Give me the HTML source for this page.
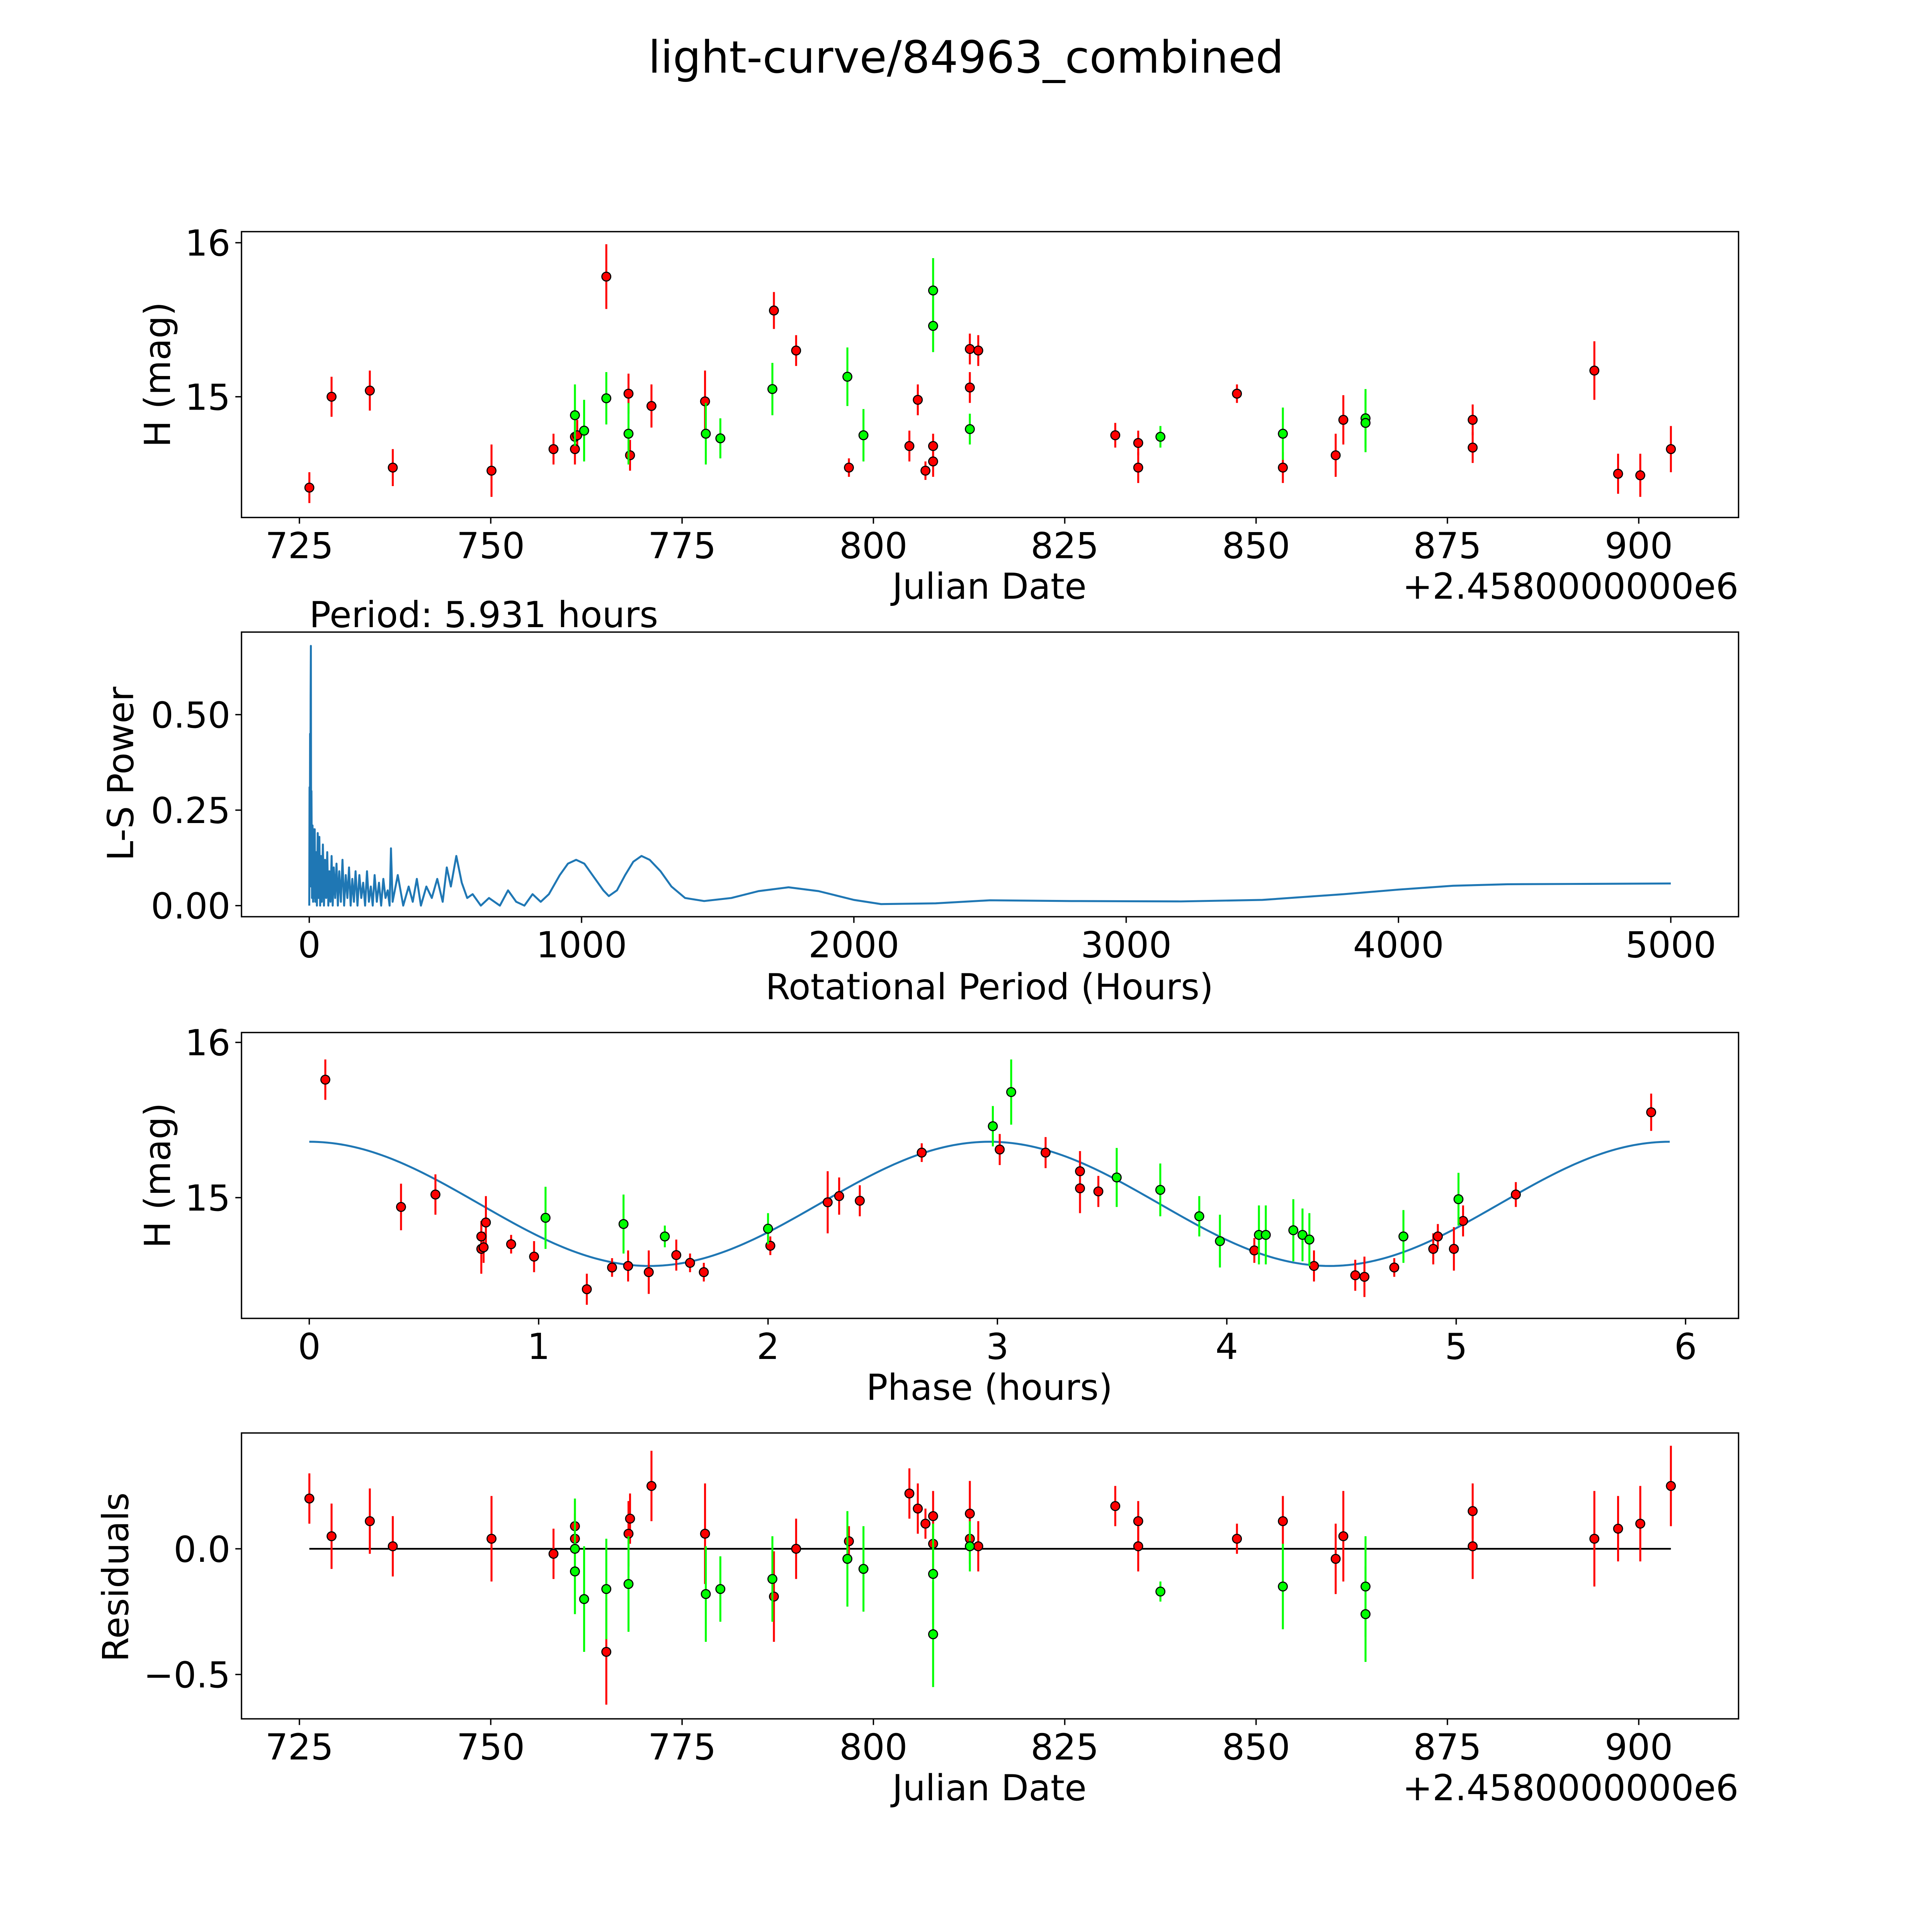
<!DOCTYPE html>
<html><head><meta charset="utf-8"><style>
html,body{margin:0;padding:0;background:#fff;overflow:hidden}
svg{display:block;width:100vh;height:100vh;max-width:5400px;max-height:5400px}
text{font-family:"DejaVu Sans","Liberation Sans",sans-serif;fill:#000}
</style></head><body>
<svg id="fig" viewBox="0 0 1568 1568" preserveAspectRatio="none" xmlns="http://www.w3.org/2000/svg">
<rect width="1568" height="1568" fill="#fff"/>
<text x="784" y="59" font-size="36" text-anchor="middle">light-curve/84963_combined</text>
<g id="g"></g>
</svg>
<script>
// Panel 1: light curve
const lcRedDate=[726.3,729.2,734.2,737.2,750.1,758.2,761,761,761.3,765.1,768,768.2,771,778,787,789.9,796.8,804.7,805.8,806.8,807.8,807.8,812.6,812.6,813.7,831.6,834.6,834.6,847.5,853.5,860.4,861.4,878.3,878.3,894.2,897.3,900.2,904.2];
const lcRedMag=[14.41,15.0,15.04,14.54,14.52,14.66,14.74,14.66,14.75,15.78,15.02,14.62,14.94,14.97,15.56,15.30,14.54,14.68,14.98,14.52,14.68,14.58,15.06,15.31,15.30,14.75,14.70,14.54,15.02,14.54,14.62,14.85,14.85,14.67,15.17,14.50,14.49,14.66];
const lcRedErr=[0.1,0.13,0.13,0.12,0.17,0.1,0.1,0.1,0.1,0.21,0.13,0.1,0.14,0.2,0.12,0.1,0.06,0.1,0.1,0.06,0.08,0.1,0.1,0.1,0.1,0.08,0.08,0.1,0.06,0.1,0.14,0.16,0.1,0.1,0.19,0.13,0.14,0.15];
const lcGrnDate=[761,762.2,765.1,768,778.1,780,786.8,796.6,798.7,807.8,807.8,812.6,837.5,853.5,864.3,864.3];
const lcGrnMag=[14.88,14.78,14.99,14.76,14.76,14.73,15.05,15.13,14.75,15.69,15.46,14.79,14.74,14.76,14.86,14.83];
const lcGrnErr=[0.2,0.2,0.17,0.2,0.2,0.13,0.17,0.19,0.17,0.21,0.17,0.1,0.07,0.17,0.19,0.19];
// Panel 2: periodogram
const pgPeriod=[0,1,2,3,4,5,5.9,7,8,10,12,14,16,18,20,22,25,28,31,34,37,40,43,46,50,54,58,62,66,70,74,78,82,86,90,95,100,
105,110,116,122,128,134,140,146,152,158,164,170,177,184,191,198,205,212,219,226,233,240,248,256,264,272,280,288,295,300,306,
325,345,365,380,395,410,430,450,470,490,505,520,540,560,580,600,630,660,700,730,760,790,820,
850,880,920,950,980,1010,1040,1080,1100,1130,1160,1190,1220,1250,1290,1330,1380,1450,1550,1650,1760,1870,2000,2100,2300,2500,2800,3200,3500,3800,4000,4200,4400,4700,5000];
const pgPower=[0,0.31,0.05,0.45,0.1,0.55,0.68,0.05,0.3,0.02,0.21,0.01,0.2,0.02,0.2,0.01,0.14,0.0,0.19,0.02,0.18,0.0,0.13,0.01,0.16,0.0,0.12,0.02,0.14,0.0,0.09,0.01,0.13,0.0,0.1,0.02,0.11,
0.0,0.09,0.01,0.12,0.0,0.08,0.02,0.1,0.0,0.07,0.01,0.09,0.0,0.08,0.02,0.06,0.0,0.09,0.01,0.05,0.0,0.08,0.01,0.06,0.0,0.07,0.02,0.04,0.0,0.15,0.01,
0.08,0.0,0.05,0.01,0.07,0.0,0.05,0.02,0.07,0.01,0.1,0.05,0.13,0.06,0.02,0.03,0.0,0.02,0.0,0.04,0.01,0.0,0.03,
0.01,0.03,0.08,0.11,0.12,0.11,0.08,0.04,0.025,0.04,0.08,0.115,0.13,0.12,0.09,0.05,0.02,0.012,0.02,0.038,0.048,0.038,0.015,0.004,0.006,0.014,0.012,0.011,0.015,0.03,0.042,0.052,0.056,0.057,0.058];
// Panel 3: phased
const phRedPhase=[0.07,0.40,0.55,0.75,0.75,0.76,0.77,0.88,0.98,1.21,1.32,1.39,1.48,1.60,1.66,1.72,2.01,2.26,2.31,2.40,2.67,3.01,3.21,3.36,3.36,3.44,4.12,4.38,4.56,4.60,4.73,4.90,4.92,4.99,5.03,5.26,5.85];
const phRedMag=[15.76,14.94,15.02,14.75,14.67,14.68,14.84,14.70,14.62,14.41,14.55,14.56,14.52,14.63,14.58,14.52,14.69,14.97,15.01,14.98,15.29,15.31,15.29,15.17,15.06,15.04,14.66,14.56,14.50,14.49,14.55,14.67,14.75,14.67,14.85,15.02,15.55];
const phRedErr=[0.13,0.15,0.13,0.1,0.16,0.1,0.17,0.06,0.1,0.1,0.06,0.1,0.14,0.1,0.06,0.06,0.06,0.2,0.12,0.1,0.06,0.1,0.1,0.13,0.16,0.1,0.08,0.1,0.1,0.13,0.06,0.1,0.08,0.14,0.1,0.08,0.12];
const phGrnPhase=[1.03,1.37,1.55,2.00,2.98,3.06,3.52,3.71,3.88,3.97,4.14,4.17,4.29,4.33,4.36,4.77,5.01];
const phGrnMag=[14.87,14.83,14.75,14.80,15.46,15.68,15.13,15.05,14.88,14.72,14.76,14.76,14.79,14.76,14.73,14.75,14.99];
const phGrnErr=[0.2,0.19,0.07,0.1,0.13,0.21,0.19,0.17,0.13,0.17,0.19,0.19,0.2,0.17,0.17,0.17,0.17];
const fitParams=[14.96,0.40,5.931]; // mean, amplitude, period (2 cycles per period)
// Panel 4: residuals
const rsRedDate=[726.3,729.2,734.2,737.2,750.1,758.2,761,761,765.1,768.2,768,771,778,787,789.9,796.8,804.7,805.8,806.8,807.8,807.8,812.6,812.6,813.7,831.6,834.6,834.6,847.5,853.5,860.4,861.4,878.3,878.3,894.2,897.3,900.2,904.2];
const rsRedVal=[0.20,0.05,0.11,0.01,0.04,-0.02,0.09,0.04,-0.41,0.12,0.06,0.25,0.06,-0.19,0.0,0.03,0.22,0.16,0.10,0.13,0.02,0.14,0.04,0.01,0.17,0.11,0.01,0.04,0.11,-0.04,0.05,0.15,0.01,0.04,0.08,0.10,0.25];
const rsRedErr=[0.1,0.13,0.13,0.12,0.17,0.1,0.1,0.1,0.21,0.1,0.13,0.14,0.2,0.18,0.12,0.06,0.1,0.1,0.06,0.1,0.1,0.13,0.1,0.1,0.08,0.08,0.1,0.06,0.1,0.14,0.18,0.11,0.13,0.19,0.13,0.15,0.16];
const rsGrnDate=[761,761,762.2,765.1,768,778.1,780,786.8,796.6,798.7,807.8,807.8,812.6,837.5,853.5,864.3,864.3];
const rsGrnVal=[-0.09,0.0,-0.20,-0.16,-0.14,-0.18,-0.16,-0.12,-0.04,-0.08,-0.10,-0.34,0.01,-0.17,-0.15,-0.15,-0.26];
const rsGrnErr=[0.17,0.2,0.21,0.2,0.19,0.19,0.13,0.17,0.19,0.17,0.2,0.21,0.1,0.04,0.17,0.2,0.19];

const jdTicks=[725,750,775,800,825,850,875,900];
const magTicks=[16,15];
const pgXTicks=[0,1000,2000,3000,4000,5000];
const pgYTicks=[0,0.25,0.5];
const phTicks=[0,1,2,3,4,5,6];
const rsTicks=[0,-0.5];

const NS='http://www.w3.org/2000/svg';
const G=document.getElementById('g');
function mk(tag,attrs,parent){const e=document.createElementNS(NS,tag);for(const k in attrs)e.setAttribute(k,attrs[k]);(parent||G).appendChild(e);return e;}
function lin(d0,d1,r0,r1){return v=>r0+(v-d0)*(r1-r0)/(d1-d0);}
const L=196,R=1411,TF=29,LF=29;
function frame(name,top,bot){const r=mk('rect',{x:L,y:top,width:R-L,height:bot-top,fill:'none',stroke:'#000','stroke-width':1.1});

}
function xticks(name,ticks,sx,bot,fmt){ticks.forEach(t=>{const x=sx(t);
const l=mk('line',{x1:x,x2:x,y1:bot,y2:bot+5,stroke:'#000','stroke-width':1.1});


const tx=mk('text',{x:x,y:bot+33,'font-size':TF,'text-anchor':'middle'});tx.textContent=fmt(t);

});}
function yticks(name,ticks,sy,fmt){ticks.forEach(t=>{const y=sy(t);
const l=mk('line',{x1:L-5,x2:L,y1:y,y2:y,stroke:'#000','stroke-width':1.1});


const tx=mk('text',{x:L-9,y:y+10.5,'font-size':TF,'text-anchor':'end'});tx.textContent=fmt(t);

});}
function label(name,txt,x,y,rot){const t=mk('text',{x:x,y:y,'font-size':LF,'text-anchor':'middle'});t.textContent=txt;
if(rot)t.setAttribute('transform','rotate(-90 '+x+' '+y+')');

}
function points(name,xs,ys,es,sx,sy,col,ecol){
for(let i=0;i<xs.length;i++){const x=sx(xs[i]);
const l=mk('line',{x1:x,x2:x,y1:sy(ys[i]-es[i]),y2:sy(ys[i]+es[i]),stroke:ecol,'stroke-width':1.6});

}
for(let i=0;i<xs.length;i++){
const c=mk('circle',{cx:sx(xs[i]),cy:sy(ys[i]),r:3.6,fill:col,stroke:'#000','stroke-width':0.9});

}}

// Panel 1
const jx=lin(725,900,243,1330);
const p1y=lin(16,15,197,322);
frame('lightcurve',188,420);
points('lightcurve-red',lcRedDate,lcRedMag,lcRedErr,jx,p1y,'#ff0000','#ff0000');
points('lightcurve-green',lcGrnDate,lcGrnMag,lcGrnErr,jx,p1y,'#00ff00','#00ff00');
xticks('lightcurve',jdTicks,jx,420,t=>t);
yticks('lightcurve',magTicks,p1y,t=>t);
label('lightcurve-x-axis-title','Julian Date',803,486);
label('lightcurve-y-axis-title','H (mag)',138,304,true);
(function(){const t=mk('text',{x:1411,y:486,'font-size':LF,'text-anchor':'end'});t.textContent='+2.4580000000e6';

})();

// Panel 2
const px=lin(0,5000,251,1356), py=lin(0,0.5,735,580);
frame('periodogram',513,744);
(function(){let d='';const n=Math.min(pgPeriod.length,pgPower.length);for(let i=0;i<n;i++){d+=(i?'L':'M')+px(pgPeriod[i]).toFixed(2)+' '+py(pgPower[i]).toFixed(2);}
const pa=mk('path',{d:d,fill:'none',stroke:'#1f77b4','stroke-width':1.6,'stroke-linejoin':'round'});


const t=mk('text',{x:251,y:509,'font-size':LF});t.textContent='Period: 5.931 hours';

})();
xticks('periodogram',pgXTicks,px,744,t=>t);
yticks('periodogram',pgYTicks,py,t=>t.toFixed(2));
label('periodogram-x-axis-title','Rotational Period (Hours)',803,811);
label('periodogram-y-axis-title','L-S Power',108,628,true);

// Panel 3
const hx=lin(0,6,251,1368), hy=lin(16,15,846,972);
frame('phased',838,1070);
(function(){let d='';const N=300;for(let i=0;i<=N;i++){const ph=fitParams[2]*i/N;const m=fitParams[0]+fitParams[1]*Math.cos(4*Math.PI*ph/fitParams[2]);d+=(i?'L':'M')+hx(ph).toFixed(2)+' '+hy(m).toFixed(2);}
const pa=mk('path',{d:d,fill:'none',stroke:'#1f77b4','stroke-width':1.6});

})();
points('phased-red',phRedPhase,phRedMag,phRedErr,hx,hy,'#ff0000','#ff0000');
points('phased-green',phGrnPhase,phGrnMag,phGrnErr,hx,hy,'#00ff00','#00ff00');
xticks('phased',phTicks,hx,1070,t=>t);
yticks('phased',magTicks,hy,t=>t);
label('phased-x-axis-title','Phase (hours)',803,1136);
label('phased-y-axis-title','H (mag)',138,954,true);

// Panel 4
const ry=lin(0,-0.5,1257,1359);
frame('residuals',1163,1395);
(function(){const a=mk('line',{x1:jx(726.3),x2:jx(904.2),y1:ry(0),y2:ry(0),stroke:'#000','stroke-width':1,'stroke-dasharray':'4 3'});


const b=mk('line',{x1:jx(726.3),x2:jx(904.2),y1:ry(0),y2:ry(0),stroke:'#000','stroke-width':1.4});

})();
points('residual-red',rsRedDate,rsRedVal,rsRedErr,jx,ry,'#ff0000','#ff0000');
points('residual-green',rsGrnDate,rsGrnVal,rsGrnErr,jx,ry,'#00ff00','#00ff00');
xticks('residuals',jdTicks,jx,1395,t=>t);
yticks('residuals',rsTicks,ry,t=>t===0?'0.0':'\u22120.5');
label('residuals-x-axis-title','Julian Date',803,1461);
label('residuals-y-axis-title','Residuals',104,1280,true);
(function(){const t=mk('text',{x:1411,y:1461,'font-size':LF,'text-anchor':'end'});t.textContent='+2.4580000000e6';

})();
</script>
</body></html>
